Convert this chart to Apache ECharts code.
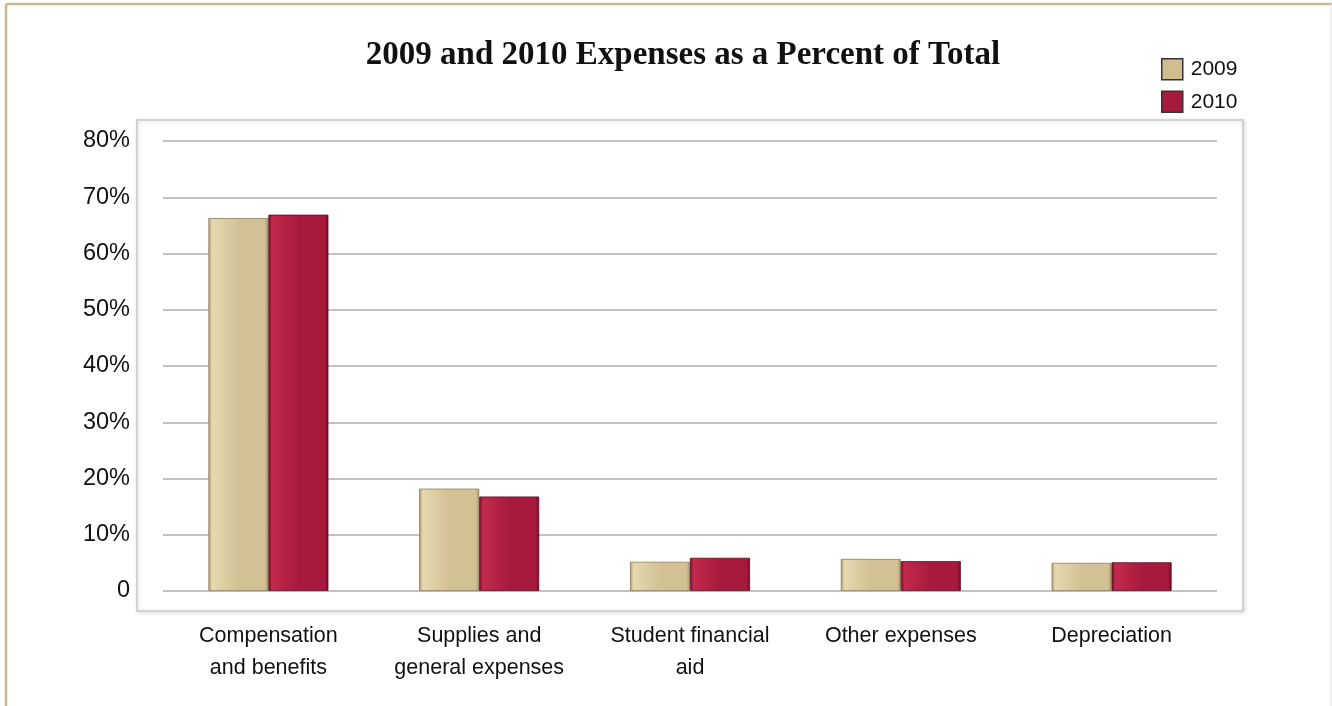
<!DOCTYPE html>
<html>
<head>
<meta charset="utf-8">
<script src="https://cdn.jsdelivr.net/npm/echarts@6/dist/echarts.min.js"></script>
<style>
  html, body { margin: 0; padding: 0; background: #ffffff; }
  #chart { width: 1332px; height: 706px; }
</style>
</head>
<body>
<div id="chart"></div>
<script>
const categories = [
  "Compensation\nand benefits",
  "Supplies and\ngeneral expenses",
  "Student financial\naid",
  "Other expenses",
  "Depreciation",
];
const values2009 = [66.3, 18.2, 5.2, 5.7, 5.0];
const values2010 = [66.9, 16.8, 5.9, 5.3, 5.1];
const yTicks = [0, 10, 20, 30, 40, 50, 60, 70, 80];

const tan = "#cfbd90";
const crimson = "#a61a3c";

function barFill(edge, mid, light) {
  return new echarts.graphic.LinearGradient(0, 0, 1, 0, [
    { offset: 0, color: edge },
    { offset: 0.06, color: light },
    { offset: 0.5, color: mid },
    { offset: 0.94, color: mid },
    { offset: 1, color: edge },
  ]);
}

const chart = echarts.init(document.getElementById("chart"), null, { renderer: "canvas" });

chart.setOption({
  backgroundColor: "#ffffff",
  animation: false,
  title: {
    text: "2009 and 2010 Expenses as a Percent of Total",
    left: 678,
    textAlign: "center",
    top: 34,
    textStyle: {
      fontFamily: "Liberation Serif",
      fontWeight: "bold",
      fontSize: 33,
      color: "#111111",
    },
  },
  legend: {
    orient: "vertical",
    left: 1161,
    top: 58,
    padding: 0,
    itemWidth: 21,
    itemHeight: 21,
    itemGap: 10,
    icon: "rect",
    textStyle: { fontFamily: "Liberation Sans", fontSize: 21, color: "#111111", padding: [0, 0, 0, 3] },
    data: [
      { name: "2009", itemStyle: { color: tan, borderColor: "#333333", borderWidth: 1.5 } },
      { name: "2010", itemStyle: { color: crimson, borderColor: "#333333", borderWidth: 1.5 } },
    ],
  },
  graphic: [
    // outer frame
    { type: "line", shape: { x1: 6, y1: 4, x2: 6, y2: 706 }, style: { stroke: "#cbb88e", lineWidth: 2.5 } },
    { type: "line", shape: { x1: 6, y1: 4, x2: 1332, y2: 4 }, style: { stroke: "#cbb88e", lineWidth: 2.5 } },
    { type: "line", shape: { x1: 1331, y1: 4, x2: 1331, y2: 706 }, style: { stroke: "#e4e4e4", lineWidth: 1 } },
    // plot box
    {
      type: "rect",
      z: -1,
      shape: { x: 137, y: 120, width: 1106, height: 491 },
      style: {
        fill: "#ffffff",
        stroke: "#d2d2d2",
        lineWidth: 2,
        shadowBlur: 4,
        shadowOffsetX: 1,
        shadowOffsetY: 1,
        shadowColor: "rgba(0,0,0,0.12)",
      },
    },
  ],
  grid: { left: 163, right: 115, top: 141, bottom: 115 },
  xAxis: {
    type: "category",
    data: categories,
    axisLine: { show: false },
    axisTick: { show: false },
    axisLabel: {
      margin: 29,
      fontFamily: "Liberation Sans",
      fontSize: 21.5,
      lineHeight: 32,
      color: "#111111",
      interval: 0,
    },
  },
  yAxis: {
    type: "value",
    min: yTicks[0],
    max: yTicks[yTicks.length - 1],
    interval: 10,
    axisLine: { show: false },
    axisTick: { show: false },
    splitLine: { lineStyle: { color: "#c2c2c2", width: 2 } },
    axisLabel: {
      margin: 33,
      fontFamily: "Liberation Sans",
      fontSize: 23.5,
      color: "#111111",
      padding: [0, 0, 12, 0],
      formatter: (v) => (v === 0 ? "0" : v + "%"),
    },
  },
  series: [
    {
      name: "2009",
      type: "bar",
      data: values2009,
      barWidth: 60,
      barGap: "0%",
      itemStyle: {
        color: barFill("#a8956c", "#d2c194", "#e6d9b0"),
        borderColor: "#8f7d58",
        borderWidth: 0.8,
      },
    },
    {
      name: "2010",
      type: "bar",
      data: values2010,
      barWidth: 60,
      barGap: "0%",
      itemStyle: {
        color: barFill("#6e0e26", "#a81a3d", "#c22a4c"),
        borderColor: "#5e0a20",
        borderWidth: 0.8,
      },
    },
  ],
});
</script>
</body>
</html>
